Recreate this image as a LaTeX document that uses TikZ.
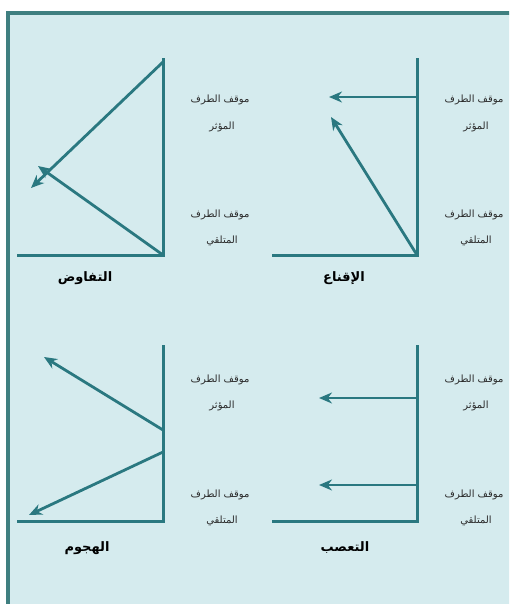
\documentclass[tikz,border=0pt]{standalone}
\usepackage{fontspec}
\newfontfamily\arabicfont[Script=Arabic]{DejaVu Sans}
\TeXXeTstate=1
\usetikzlibrary{arrows.meta}
\definecolor{bgblue}{HTML}{D5EBEE}
\definecolor{frameteal}{HTML}{3F7F80}
\definecolor{lineteal}{HTML}{2A7880}
\definecolor{txtgray}{HTML}{2A2A2A}
\tikzset{
  axisline/.style={draw=lineteal, line width=3pt},
  arr/.style={draw=lineteal, line width=2.8pt, -{Stealth[length=13pt,width=11pt]}},
  lbl/.style={font=\arabicfont\fontsize{10}{12}\selectfont, text=txtgray, inner sep=0pt},
  ttl/.style={font=\arabicfont\bfseries\fontsize{13}{15}\selectfont, text=black, inner sep=0pt}
}
\begin{document}
\begin{tikzpicture}[x=1pt,y=-1pt]
\useasboundingbox (0,0) rectangle (509,604);
\fill[white] (0,0) rectangle (509,604);
\begin{scope}
\clip (0,0) rectangle (509,604);
\draw[fill=bgblue, draw=frameteal, line width=3.5pt] (8,13) rectangle (530,630);
\end{scope}

% ---- top-left: negotiation
\coordinate (tlT) at (163,58);
\coordinate (tlB) at (163,255);
\coordinate (tlL) at (17,255);
\coordinate (tlA1s) at (163,62);
\coordinate (tlA1e) at (31,188);
\coordinate (tlA2e) at (38,166);
\draw[axisline] (tlL) -- (tlB) -- (tlT);
\draw[arr] (tlA1s) -- (tlA1e);
\draw[arr] (tlB) -- (tlA2e);
\node[lbl] (tl1) at (220,100) {\beginR موقف الطرف\endR};
\node[lbl] (tl2) at (222,127) {\beginR المؤثر\endR};
\node[lbl] (tl3) at (220,215) {\beginR موقف الطرف\endR};
\node[lbl] (tl4) at (222,241) {\beginR المتلقي\endR};
\node[ttl] (tlt) at (85,278) {\beginR التفاوض\endR};

% ---- top-right: persuasion
\coordinate (trT) at (417,58);
\coordinate (trB) at (417,255);
\coordinate (trL) at (272,255);
\coordinate (trA1s) at (417,97);
\coordinate (trA1e) at (329,97);
\coordinate (trA2e) at (331,117);
\draw[axisline] (trL) -- (trB) -- (trT);
\draw[arr] (trA1s) -- (trA1e);
\draw[arr] (trB) -- (trA2e);
\node[lbl] (tr1) at (474,100) {\beginR موقف الطرف\endR};
\node[lbl] (tr2) at (476,127) {\beginR المؤثر\endR};
\node[lbl] (tr3) at (474,215) {\beginR موقف الطرف\endR};
\node[lbl] (tr4) at (476,241) {\beginR المتلقي\endR};
\node[ttl] (trt) at (344,278) {\beginR الإقناع\endR};

% ---- bottom-left: attack
\coordinate (blT) at (163,345);
\coordinate (blB) at (163,521);
\coordinate (blL) at (17,521);
\coordinate (blA1s) at (163,430);
\coordinate (blA1e) at (44,357);
\coordinate (blA2s) at (163,452);
\coordinate (blA2e) at (29,515);
\draw[axisline] (blL) -- (blB) -- (blT);
\draw[arr] (blA1s) -- (blA1e);
\draw[arr] (blA2s) -- (blA2e);
\node[lbl] (bl1) at (220,380) {\beginR موقف الطرف\endR};
\node[lbl] (bl2) at (222,406) {\beginR المؤثر\endR};
\node[lbl] (bl3) at (220,495) {\beginR موقف الطرف\endR};
\node[lbl] (bl4) at (222,521) {\beginR المتلقي\endR};
\node[ttl] (blt) at (87,548) {\beginR الهجوم\endR};

% ---- bottom-right: fanaticism
\coordinate (brT) at (417,345);
\coordinate (brB) at (417,521);
\coordinate (brL) at (272,521);
\coordinate (brA1s) at (417,398);
\coordinate (brA1e) at (319,398);
\coordinate (brA2s) at (417,485);
\coordinate (brA2e) at (319,485);
\draw[axisline] (brL) -- (brB) -- (brT);
\draw[arr] (brA1s) -- (brA1e);
\draw[arr] (brA2s) -- (brA2e);
\node[lbl] (br1) at (474,380) {\beginR موقف الطرف\endR};
\node[lbl] (br2) at (476,406) {\beginR المؤثر\endR};
\node[lbl] (br3) at (474,495) {\beginR موقف الطرف\endR};
\node[lbl] (br4) at (476,521) {\beginR المتلقي\endR};
\node[ttl] (brt) at (345,548) {\beginR التعصب\endR};
\end{tikzpicture}
\end{document}
